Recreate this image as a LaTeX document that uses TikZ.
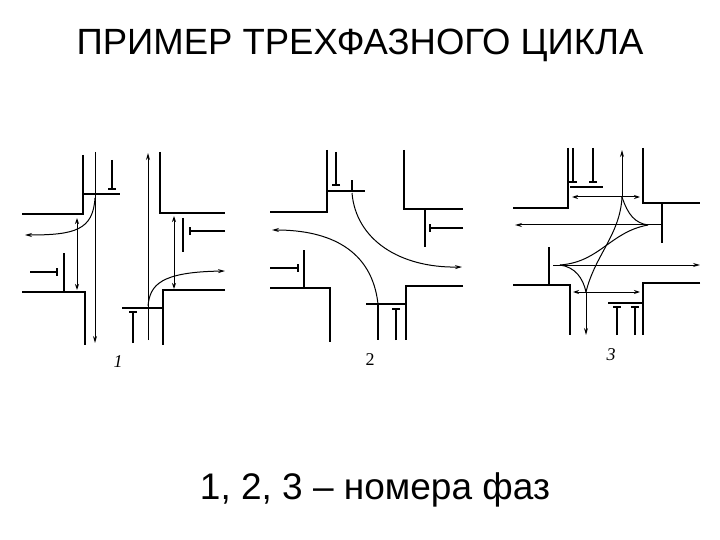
\documentclass[tikz,border=0pt]{standalone}
\usepackage{fontspec}
\setmainfont{Liberation Sans}
\newfontfamily\numfont{Liberation Serif}
\usetikzlibrary{arrows.meta}
\begin{document}
\begin{tikzpicture}[x=1pt,y=-1pt,
 curb/.style={line width=2pt},
 stopl/.style={line width=2.4pt},
 sig/.style={line width=1.3pt,-{Bar[width=8pt,line width=2pt]}},
 mv/.style={line width=1pt,-{Stealth[length=7pt,width=4pt]}},
 ped/.style={line width=1pt,{Stealth[length=6pt,width=4pt]}-{Stealth[length=6pt,width=4pt]}},
 num/.style={font=\numfont\itshape\fontsize{18}{18}\selectfont}]
\useasboundingbox (0,0) rectangle (720,540);
\node (title) at (360,45) {\fontsize{36.5}{36.5}\selectfont ПРИМЕР ТРЕХФАЗНОГО ЦИКЛА};
\node (cap) at (375,490) {\fontsize{37}{37}\selectfont 1, 2, 3 – номера фаз};
% ---------- 1
\draw[curb] (83,155) -- (83,214) -- (22,214);
\draw[curb] (160,152) -- (160,213) -- (225,213);
\draw[curb] (22,292) -- (85,292) -- (85,345);
\draw[curb] (225,290) -- (163,290) -- (163,345);
\draw[stopl] (83,194) -- (120,194);
\draw[stopl] (122,308) -- (163,308);
\draw[stopl] (64,253) -- (64,291);
\draw[stopl] (183,218) -- (183,252);
\draw[sig] (112,160) -- (112,190);
\draw[sig] (133,343) -- (133,311);
\draw[sig] (30,272) -- (58,272);
\draw[sig] (225,231) -- (189,231);
\draw[mv] (95,152) -- (95,343);
\draw[mv] (148,340) -- (148,153);
\draw[mv] (95,198) .. controls (93,230) and (75,235) .. (25,235);
\draw[mv] (148,306) .. controls (150,285) and (160,272) .. (225,271);
\draw[ped] (77,218) -- (77,290);
\draw[ped] (174,216) -- (174,289);
\node[num] (n1) at (118,362) {1};
% ---------- 2
\draw[curb] (327,150) -- (327,212) -- (270,212);
\draw[curb] (404,150) -- (404,209) -- (463,209);
\draw[curb] (270,288) -- (330,288) -- (330,342);
\draw[curb] (463,286) -- (406,286) -- (406,340);
\draw[stopl] (327,191) -- (365,191);
\draw[stopl] (366,304) -- (406,304);
\draw[stopl] (304,250) -- (304,288);
\draw[stopl] (425,210) -- (425,247);
\draw[sig] (336,152) -- (336,186);
\draw[sig] (396,340) -- (396,308);
\draw[sig] (270,268) -- (299,268);
\draw[sig] (463,228) -- (429,228);
\draw[line width=1.3pt] (378,304) -- (378,340);
\draw[line width=1.3pt] (352,191) -- (352,180);
\draw[mv] (378,304) .. controls (372,250) and (330,230) .. (272,230);
\draw[mv] (352,193) .. controls (356,240) and (400,268) .. (462,267);
\node[font=\numfont\fontsize{18}{18}\selectfont] (n2) at (370,360) {2};
% ---------- 3
\draw[curb] (568,148) -- (568,208) -- (513,208);
\draw[curb] (643,148) -- (643,203) -- (700,203);
\draw[curb] (513,285) -- (570,285) -- (570,335);
\draw[curb] (700,283) -- (643,283) -- (643,335);
\draw[line width=1.3pt] (570,187) -- (603,187);
\draw[line width=1.3pt] (608,303) -- (643,303);
\draw[stopl] (662,203) -- (662,243);
\draw[stopl] (549,247) -- (549,285);
\draw[sig] (573,148) -- (573,183);
\draw[sig] (593,148) -- (593,183);
\draw[sig] (617,335) -- (617,306);
\draw[sig] (635,335) -- (635,306);
\draw[mv] (662,225) -- (515,225);
\draw[mv] (553,265) -- (700,265);
\draw[mv] (622,197) -- (622,150);
\draw[mv] (586,292) -- (586,335);
\draw[ped] (572,197) -- (640,197);
\draw[ped] (573,292) -- (640,292);
\draw[line width=1pt] (622,197) .. controls (628,215) and (635,223) .. (648,225);
\draw[line width=1pt] (648,225) .. controls (610,232) and (600,262) .. (560,265);
\draw[line width=1pt] (560,265) .. controls (575,267) and (583,278) .. (586,292);
\draw[line width=1pt] (586,292) .. controls (595,255) and (620,235) .. (622,197);
\node[num] (n3) at (611,355) {3};
\end{tikzpicture}
\end{document}
